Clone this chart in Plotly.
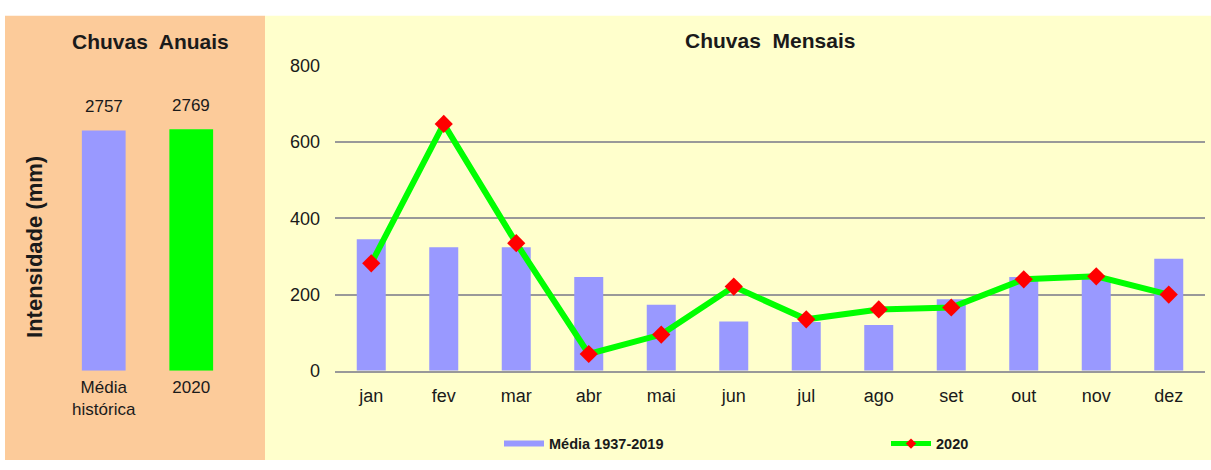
import plotly.graph_objects as go

# ---------------- data ----------------
annual_labels = ["Média<br>histórica", "2020"]
annual_values = [2757, 2769]

months = ["jan", "fev", "mar", "abr", "mai", "jun", "jul", "ago", "set", "out", "nov", "dez"]
media_hist = [345, 324, 324, 246, 173, 129, 128, 120, 188, 246, 245, 294]
chuva_2020 = [282, 648, 335, 44, 95, 221, 135, 161, 166, 240, 248, 200]

y_ticks = [0, 200, 400, 600, 800]

W, H = 1211, 470
FONT = "Liberation Sans, Arial, sans-serif"
PEACH = "#FCCB9A"
YELLOW = "#FFFFCC"
BLUE = "#9999FF"
GREEN = "#00FF00"
RED = "#FF0000"
TXT = "#1a1a1a"


def px(x):
    return min(1.0, max(0.0, x / W))


def py(y):
    return min(1.0, max(0.0, 1 - y / H))


fig = go.Figure()

# annual bars (left panel)
fig.add_trace(go.Bar(
    x=annual_labels, y=annual_values, xaxis="x", yaxis="y",
    marker=dict(color=[BLUE, GREEN], line=dict(width=0)),
    width=0.5, showlegend=False, hoverinfo="skip",
))
# monthly bars
fig.add_trace(go.Bar(
    x=months, y=media_hist, xaxis="x2", yaxis="y2",
    marker=dict(color=BLUE, line=dict(width=0)), width=0.4,
    name="Média 1937-2019", showlegend=False, hoverinfo="skip",
))
# 2020 line
fig.add_trace(go.Scatter(
    x=months, y=chuva_2020, xaxis="x2", yaxis="y2", mode="lines+markers",
    line=dict(color=GREEN, width=6),
    marker=dict(symbol="diamond", size=14, color=RED),
    name="2020", showlegend=False, hoverinfo="skip",
))
# legend entries (swatches styled like the original legend)
fig.add_trace(go.Scatter(
    x=[None], y=[None], xaxis="x2", yaxis="y2", mode="lines",
    line=dict(color=BLUE, width=6), name="<b>Média 1937-2019</b>",
    legend="legend",
))
fig.add_trace(go.Scatter(
    x=[None], y=[None], xaxis="x2", yaxis="y2", mode="lines+markers",
    line=dict(color=GREEN, width=5), marker=dict(symbol="diamond", size=8, color=RED),
    name="<b>2020</b>", legend="legend2",
))

shapes = [
    dict(type="rect", xref="paper", yref="paper", x0=px(5), x1=px(265), y0=0, y1=py(7),
         fillcolor=PEACH, line=dict(width=0), layer="below"),
    dict(type="rect", xref="paper", yref="paper", x0=px(265), x1=1, y0=0, y1=py(7),
         fillcolor=YELLOW, line=dict(width=0), layer="below"),
]

annotations = [
    dict(text="<b>Chuvas  Anuais</b>", xref="paper", yref="paper", x=px(150), y=py(34),
         showarrow=False, font=dict(family=FONT, size=21, color=TXT), xanchor="center", yanchor="middle"),
    dict(text="<b>Chuvas  Mensais</b>", xref="paper", yref="paper", x=px(770), y=py(33),
         showarrow=False, font=dict(family=FONT, size=21, color=TXT), xanchor="center", yanchor="middle"),
    dict(text="<b>Intensidade (mm)</b>", xref="paper", yref="paper", x=px(35), y=py(248),
         showarrow=False, textangle=-90, font=dict(family=FONT, size=22, color=TXT),
         xanchor="center", yanchor="middle"),
]
# value labels above the annual bars (category index positions)
for i, val in enumerate(annual_values):
    annotations.append(dict(text=str(val), xref="x", yref="y", x=i, y=val, yshift=12,
                            showarrow=False, xanchor="center", yanchor="bottom",
                            font=dict(family=FONT, size=17, color=TXT)))

fig.update_layout(
    width=W, height=H,
    margin=dict(l=0, r=0, t=0, b=0),
    paper_bgcolor="white", plot_bgcolor="white",
    font=dict(family=FONT, size=17, color=TXT),
    shapes=shapes, annotations=annotations,
    hovermode=False,
    xaxis=dict(type="category", domain=[px(60), px(235)], range=[-0.5, 1.5],
               showgrid=False, showline=False, ticks="",
               tickfont=dict(size=17, color=TXT), ticklabelstandoff=4),
    yaxis=dict(domain=[py(377), py(59)], range=[0, 3500], showgrid=False, showticklabels=False,
               zeroline=False, showline=False, ticks="", anchor="x"),
    xaxis2=dict(type="category", domain=[px(335), px(1205)], range=[-0.5, 11.5],
                showgrid=False, showline=True,
                linecolor="#999999", linewidth=1.5, ticks="", tickfont=dict(size=18, color=TXT),
                ticklabelstandoff=8, anchor="y2"),
    yaxis2=dict(domain=[py(377), py(59)], range=[0, 801], tickvals=y_ticks,
                showgrid=True, gridcolor="#999999", gridwidth=1.5, zeroline=False,
                showline=False, ticks="", tickfont=dict(size=18, color=TXT),
                ticklabelstandoff=14, anchor="x2"),
    legend=dict(x=px(499), y=py(453), xanchor="left", yanchor="middle", orientation="h",
                bgcolor="rgba(0,0,0,0)", font=dict(family=FONT, size=14.5, color=TXT),
                itemwidth=40, tracegroupgap=0),
    legend2=dict(x=px(886), y=py(453), xanchor="left", yanchor="middle", orientation="h",
                 bgcolor="rgba(0,0,0,0)", font=dict(family=FONT, size=14.5, color=TXT),
                 itemwidth=40),
    showlegend=True,
)

page_fix = (
    "document.body.style.margin='0';"
    "document.body.style.overflow='hidden';"
)

fig.write_html("out.html", post_script=page_fix, config={"displayModeBar": False})
